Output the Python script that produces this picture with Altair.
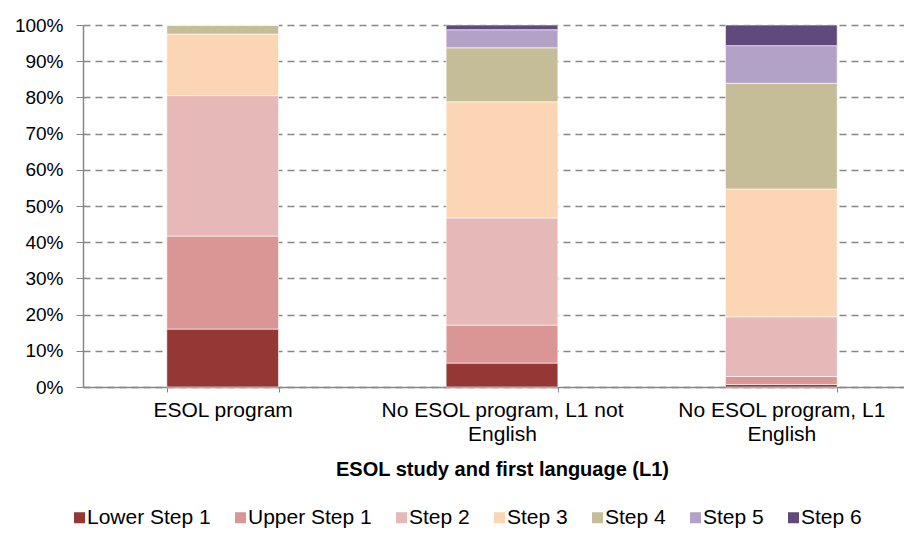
import altair as alt
import pandas as pd

categories = ["ESOL program", "No ESOL program, L1 not English", "No ESOL program, L1 English"]
label_lines = [["ESOL program"], ["No ESOL program, L1 not", "English"], ["No ESOL program, L1", "English"]]
steps = ["Lower Step 1", "Upper Step 1", "Step 2", "Step 3", "Step 4", "Step 5", "Step 6"]
colors = ["#953735", "#D99694", "#E6B9B8", "#FCD5B5", "#C4BD97", "#B3A2C7", "#604A7B"]

esol_program = [16.0, 25.7, 38.8, 17.0, 2.5, 0.0, 0.0]
no_esol_l1_not_english = [6.6, 10.5, 29.6, 32.1, 14.9, 5.0, 1.3]
no_esol_l1_english = [0.7, 2.2, 16.5, 35.3, 29.2, 10.4, 5.7]

series = [esol_program, no_esol_l1_not_english, no_esol_l1_english]
rows = []
for cat, vals in zip(categories, series):
    for i, (s, v) in enumerate(zip(steps, vals)):
        rows.append({"group": cat, "step": s, "order": i, "value": v})
df = pd.DataFrame(rows)

label_expr = ""
for cat, lines in zip(categories, label_lines):
    arr = "[" + ", ".join("'" + l + "'" for l in lines) + "]"
    label_expr += f"datum.label == '{cat}' ? {arr} : "
label_expr += "datum.label"

FONT = "Liberation Sans"
W = 814
H = 362
BAND_RANGE = 838

chart = alt.Chart(df).mark_bar(stroke="white", strokeWidth=0.6).encode(
    x=alt.X(
        "group:N",
        sort=categories,
        scale=alt.Scale(range=[0, BAND_RANGE], paddingInner=0.6, paddingOuter=0.3),
        axis=alt.Axis(
            title="ESOL study and first language (L1)",
            titleFont=FONT, titleFontSize=20, titleFontWeight="bold", titleColor="black",
            titleX=BAND_RANGE / 2, titleY=88, titleBaseline="alphabetic",
            labelExpr=label_expr, labelAngle=0, labelFont=FONT, labelFontSize=21,
            labelColor="black", labelPadding=7, labelLineHeight=24, labelBaseline="top",
            labelLimit=0,
            tickBand="extent", tickSize=5, tickColor="#868686", domainColor="#868686",
            domainWidth=1.5, grid=False,
        ),
    ),
    y=alt.Y(
        "value:Q",
        stack="normalize",
        scale=alt.Scale(domain=[0, 1], nice=False),
        axis=alt.Axis(
            title=None, format=".0%", values=[i / 10 for i in range(11)],
            labelFont=FONT, labelFontSize=19, labelColor="black", labelPadding=13,
            tickSize=7, tickColor="#868686", domainColor="#868686", domainWidth=1.5,
            grid=True, gridColor="#868686", gridDash=[7, 5], gridWidth=1.5,
        ),
    ),
    color=alt.Color(
        "step:N",
        sort=steps,
        scale=alt.Scale(domain=steps, range=colors),
        legend=alt.Legend(
            title=None, orient="none", direction="horizontal", legendX=-14, legendY=482,
            symbolType="square", symbolSize=121, symbolStrokeWidth=0,
            labelFont=FONT, labelFontSize=21, labelColor="black",
            labelOffset={"expr": "-3"},
            columnPadding=19, labelLimit=0,
        ),
    ),
    order=alt.Order("order:Q"),
).properties(
    width=W, height=H,
    autosize=alt.AutoSizeParams(type="none"),
    padding={"left": 75, "top": 17, "right": 7, "bottom": 150},
).configure_view(stroke=None)

chart.save("out.html", embed_options={"renderer": "svg", "actions": False})
